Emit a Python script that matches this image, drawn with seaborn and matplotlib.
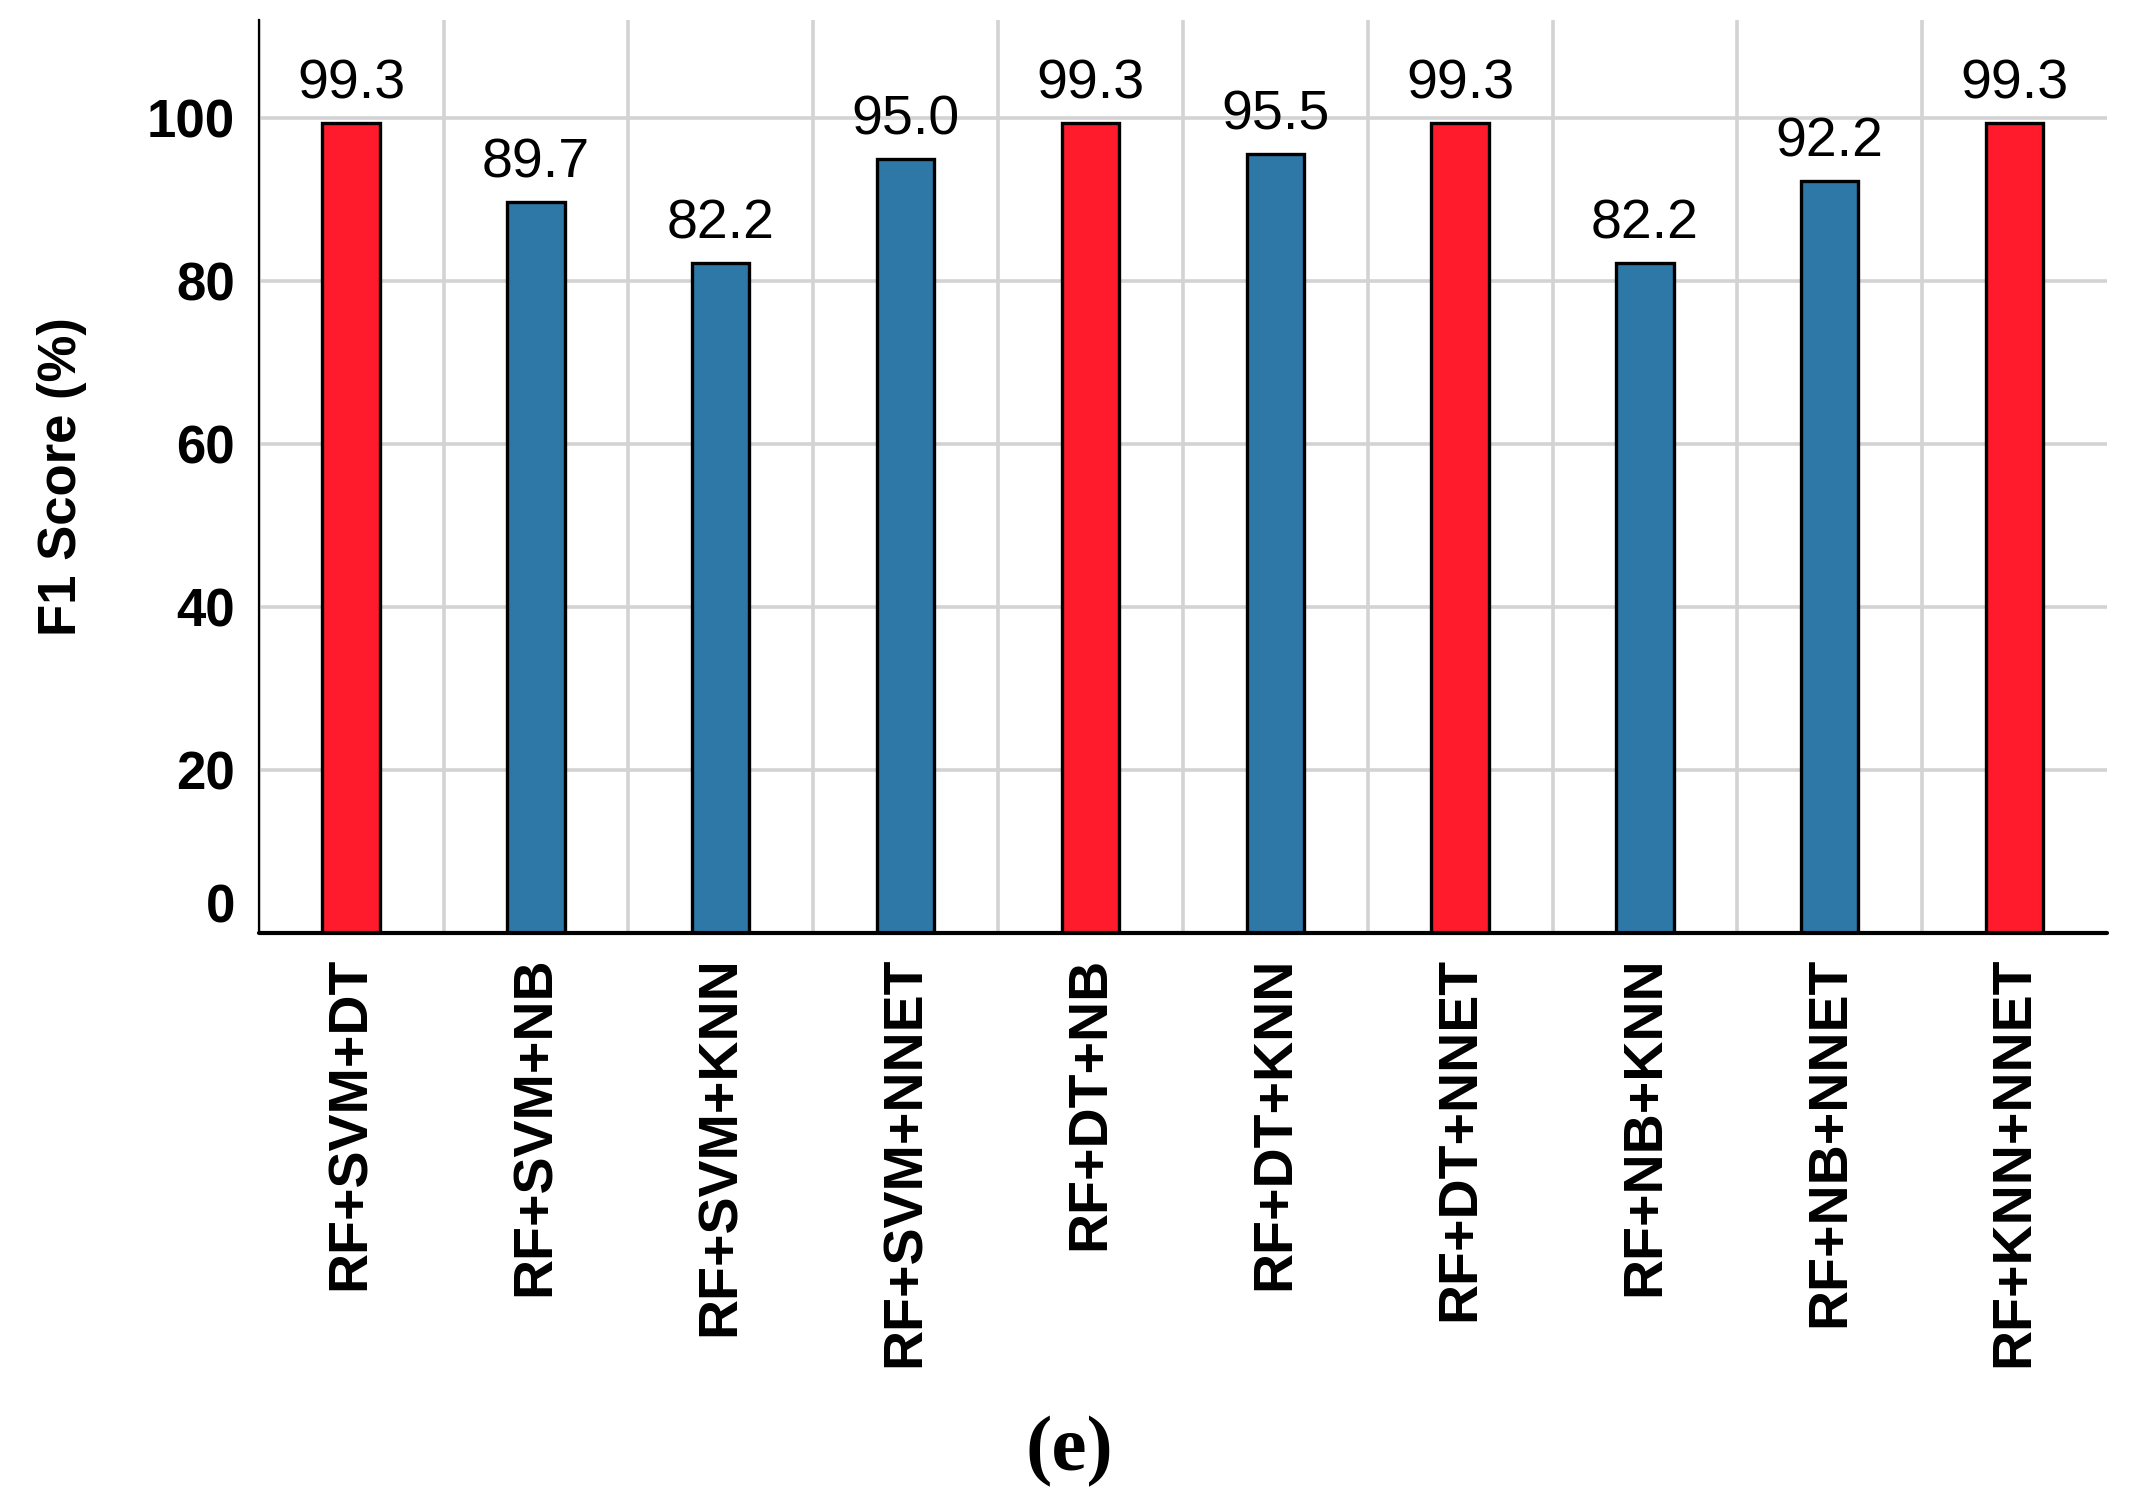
import numpy as np
import pandas as pd
import seaborn as sns
import matplotlib.pyplot as plt
from matplotlib.ticker import FixedLocator

# F1 scores of the ensemble models
models = ['RF+SVM+DT', 'RF+SVM+NB', 'RF+SVM+KNN', 'RF+SVM+NNET', 'RF+DT+NB',
          'RF+DT+KNN', 'RF+DT+NNET', 'RF+NB+KNN', 'RF+NB+NNET', 'RF+KNN+NNET']
f1_scores = [99.3, 89.7, 82.2, 95.0, 99.3, 95.5, 99.3, 82.2, 92.2, 99.3]
is_best = [True, False, False, False, True, False, True, False, False, True]
y_ticks = [0, 20, 40, 60, 80, 100]

red = '#FF1B2C'
blue = '#2E78A8'
grid_color = '#D3D3D3'

df = pd.DataFrame({'Model': models, 'F1': f1_scores})
bar_colors = [red if b else blue for b in is_best]

sns.set_style('white')
plt.rcParams['font.family'] = ['Liberation Sans', 'DejaVu Sans']
plt.rcParams['text.color'] = 'black'
plt.rcParams['axes.labelcolor'] = 'black'
plt.rcParams['xtick.color'] = 'black'
plt.rcParams['ytick.color'] = 'black'

fig = plt.figure(figsize=(21.38, 15.11), dpi=100)
ax = fig.add_axes([0.121, 0.3825, 0.8645, 0.6043])

sns.barplot(data=df, x='Model', y='F1', hue='Model', palette=bar_colors,
            width=0.31, edgecolor='black', linewidth=2.4, saturation=1,
            legend=False, ax=ax)

# value labels above bars
for cont in ax.containers:
    ax.bar_label(cont, fmt='%.1f', padding=9, fontsize=40, color='black')

ax.set_xlim(-0.5, len(models) - 0.5)
ax.set_ylim(0, 112)
ax.set_yticks(y_ticks, labels=[str(t) for t in y_ticks])

# tick marks and vertical grid sit between the categories
ax.xaxis.set_minor_locator(FixedLocator(np.arange(-0.5, len(models) - 1, 1)))
ax.set_axisbelow(True)
ax.grid(axis='y', which='major', color=grid_color, lw=2.6)
ax.grid(axis='x', which='minor', color=grid_color, lw=2.6)
ax.grid(axis='x', which='major', visible=False)

ax.tick_params(axis='x', which='major', length=0, pad=12,
               labelrotation=90, labelsize=40)
ax.tick_params(axis='x', which='minor', length=12, width=2.4, direction='out')
ax.tick_params(axis='y', which='major', length=11, width=3, direction='out',
               pad=6, labelsize=38)

for side in ['top', 'right']:
    ax.spines[side].set_visible(False)
ax.spines['left'].set_linewidth(1.6)
ax.spines['left'].set_color('black')
ax.spines['bottom'].set_position(('outward', 5))
ax.spines['bottom'].set_visible(False)
ax.axhline(0, color='black', lw=3, clip_on=False, zorder=5)

ax.set_xlabel('')
ax.set_ylabel('F1 Score (%)', fontsize=38, fontweight='bold')
ax.yaxis.set_label_coords(-0.093, 0.5)

fig.text(0.5, 0.039, '(e)', ha='center', va='center',
         fontfamily='Liberation Serif', fontsize=57, fontweight='bold')

fig.canvas.draw()
for lbl in ax.get_xticklabels() + ax.get_yticklabels():
    lbl.set_fontweight('bold')
ax.get_yticklabels()[0].set_va('bottom')

fig.savefig('out.png', dpi=100)
